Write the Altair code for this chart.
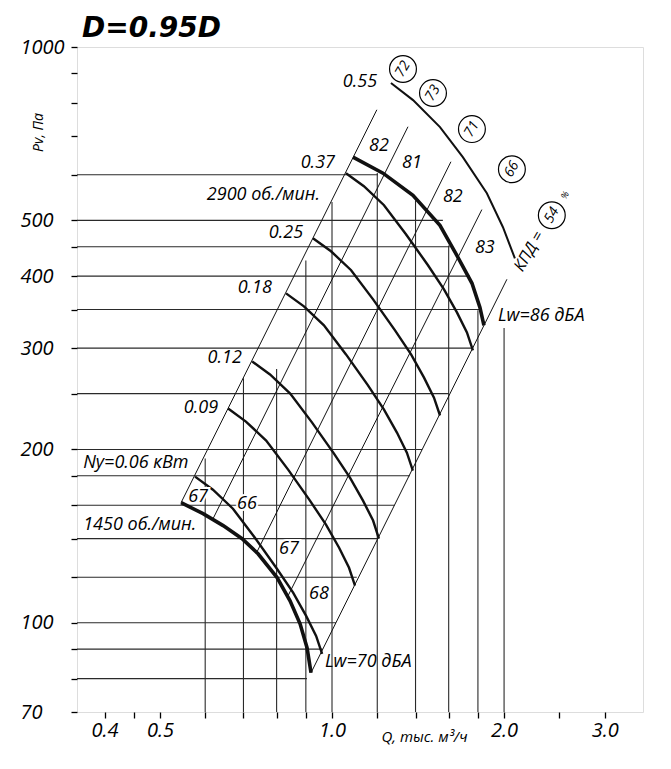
import altair as alt
import pandas as pd

# ---------------- axes ----------------
Q_MIN, Q_MAX = 0.358, 3.5
P_MIN, P_MAX = 70, 1000
X_TICKS = [0.4, 0.45, 0.5, 0.6, 0.7, 0.8, 0.9, 1.0, 1.2, 1.4, 1.6, 1.8, 2.0, 2.5, 3.0]
X_LABELED = [0.4, 0.5, 1.0, 2.0, 3.0]
Y_TICKS = [70, 80, 90, 100, 120, 140, 160, 180, 200, 250, 300, 350, 400, 450, 500,
           600, 700, 800, 900, 1000]
Y_LABELED = [70, 100, 200, 300, 400, 500, 1000]
TITLE = "D=0.95D"

# ---------------- speed curves (thick) ----------------
N1450_Q = [0.5445, 0.5949, 0.6450, 0.6962, 0.7424, 0.8015, 0.8445, 0.8793, 0.9043, 0.9190]
N1450_P = [161.7, 154.7, 147.5, 140.0, 131.8, 119.8, 109.2, 99.6, 90.5, 81.9]
N2900_Q = [1.0882, 1.2280, 1.3854, 1.5446, 1.6607, 1.7574, 1.8146, 1.8441]
N2900_P = [643.9, 603.8, 552.8, 490.1, 431.3, 388.7, 353.0, 328.6]

# ---------------- motor power curves ----------------
N006_Q = [0.576, 0.619, 0.671, 0.733, 0.801, 0.855, 0.901, 0.938, 0.961]
N006_P = [179.4, 170.3, 157.8, 140.5, 124.1, 112.8, 102.8, 94.9, 88.3]
N009_Q = [0.658, 0.707, 0.767, 0.838, 0.915, 0.976, 1.029, 1.071, 1.097]
N009_P = [235.6, 223.6, 207.3, 184.5, 163.0, 148.1, 135.0, 124.6, 116.0]
N012_Q = [0.725, 0.779, 0.845, 0.923, 1.008, 1.075, 1.133, 1.180, 1.208]
N012_P = [284.4, 270.0, 250.1, 222.7, 196.7, 178.7, 163.0, 150.5, 140.0]
N018_Q = [0.831, 0.893, 0.968, 1.058, 1.156, 1.233, 1.299, 1.352, 1.385]
N018_P = [373.4, 354.4, 328.6, 292.5, 258.4, 234.6, 214.0, 197.5, 183.8]
N025_Q = [0.926, 0.996, 1.080, 1.180, 1.289, 1.375, 1.448, 1.508, 1.545]
N025_P = [465.4, 441.8, 409.6, 364.5, 322.0, 292.5, 266.8, 246.1, 229.1]
N037_Q = [1.058, 1.137, 1.233, 1.347, 1.472, 1.570, 1.654, 1.722, 1.764]
N037_P = [603.8, 573.1, 531.1, 473.0, 417.8, 379.4, 346.0, 319.4, 297.2]
N055_Q = [1.268, 1.386, 1.545, 1.694, 1.866, 1.991, 2.089]
N055_P = [865.7, 808.7, 726.0, 643.6, 557.3, 486.4, 429.5]

# ---------------- rays (system lines) ----------------
RAY_Q_LOW = [0.5445, 0.6194, 0.7395, 0.8377, 0.9190]
RAY_P_LOW = [161.7, 151.7, 132.9, 111.4, 81.9]
RAY_Q_HIGH = [1.198, 1.358, 1.6145, 1.829, 2.023]
RAY_P_HIGH = [778, 727, 632, 522, 395]

# ---------------- grid segments ----------------
VGRID_Q = [0.6, 0.7, 0.8, 0.9, 1.0, 1.2, 1.4, 1.6, 1.8, 2.0]
VGRID_TOP = [193, 266, 276, 426, 538, 604, 542, 452, 349, 325]
HGRID_P = [80, 90, 100, 120, 140, 160, 180, 200, 250, 300, 350, 400, 450, 500, 600]
HGRID_END = [0.904, 0.962, 1.016, 1.105, 1.203, 1.287, 1.368, 1.437, 1.60, 1.757,
             1.815, 1.743, 1.607, 1.563, 1.203]

# ---------------- labels ----------------
POWER_TEXT = ["0.55", "0.37", "0.25", "0.18", "0.12", "0.09"]
POWER_Q = [1.199, 1.012, 0.890, 0.785, 0.6955, 0.632]
POWER_P = [869, 628, 475, 381, 288, 236]
LEFT_TEXT = ["Ny=0.06 кВт", "1450 об./мин."]
LEFT_Q = [0.367, 0.367]
LEFT_P = [189.8, 148.1]
SPEED_TEXT = ["2900 об./мин."]
SPEED_Q = [0.953]
SPEED_P = [552.8]
LW_TEXT = ["67", "66", "67", "68", "82", "81", "82", "83"]
LW_Q = [0.583, 0.710, 0.841, 0.949, 1.208, 1.380, 1.627, 1.851]
LW_P = [165.6, 161.1, 134.5, 112.3, 672.6, 628.4, 548.4, 447.2]
LWB_TEXT = ["Lw=70 дБА", "Lw=86 дБА"]
LWB_Q = [0.972, 1.951]
LWB_P = [85.5, 340.6]
EFF_TEXT = ["72", "73", "71", "66", "54"]
EFF_Q = [1.331, 1.502, 1.757, 2.064, 2.424]
EFF_P = [915.7, 831.8, 720.2, 613.4, 510.3]
KPD_TEXT = ["КПД ="]
KPD_Q = [2.211]
KPD_P = [441.8]
PCT_TEXT = ["%"]
PCT_Q = [2.555]
PCT_P = [552.8]

FONT = "Open Sans"
INK = "#111111"


def curves(named):
    rows = []
    for name, qs, ps in named:
        for i, (q, p) in enumerate(zip(qs, ps)):
            rows.append({"curve": name, "i": i, "Q": q, "P": p})
    return pd.DataFrame(rows)


def labels(texts, qs, ps):
    return pd.DataFrame({"t": texts, "Q": qs, "P": ps})


xs = alt.Scale(type="log", domain=[Q_MIN, Q_MAX], nice=False, zero=False)
ys = alt.Scale(type="log", domain=[P_MIN, P_MAX], nice=False, zero=False)

x_axis = alt.Axis(
    values=X_TICKS, format=".1f",
    labelExpr="indexof([" + ",".join(str(v) for v in X_LABELED) + "], datum.value) >= 0 ? datum.label : ''",
    grid=False, domain=False, ticks=True, tickSize=6, tickWidth=1.3, tickColor="black",
    labelFont=FONT, labelFontStyle="italic", labelFontSize=20, labelColor="black",
    labelPadding=2, labelOverlap=False, labelFlush=False, labelBound=False,
    title="Q, тыс. м³/ч", titleFont=FONT, titleFontStyle="italic", titleFontWeight="normal",
    titleFontSize=15, titleColor="black", titleX=347, titleY=24,
    titleAlign="center", titleBaseline="middle",
)
y_axis = alt.Axis(
    values=Y_TICKS, format="d",
    labelExpr="indexof([" + ",".join(str(v) for v in Y_LABELED) + "], datum.value) >= 0 ? datum.label : ''",
    grid=False, domain=False, ticks=True, tickSize=6, tickWidth=1.3, tickColor="black",
    labelFont=FONT, labelFontStyle="italic", labelFontSize=20, labelColor="black",
    labelAlign="left", labelBaseline="middle", labelPadding=51,
    labelOverlap=False, labelFlush=False, labelBound=False,
    title="Pv, Па", titleFont=FONT, titleFontStyle="italic", titleFontWeight="normal",
    titleFontSize=14, titleColor="black", titleAngle=270, titleX=-39, titleY=85,
    titleAlign="center", titleBaseline="middle",
)


def X(field="Q"):
    return alt.X(field, type="quantitative", scale=xs, axis=x_axis)


def Y(field="P"):
    return alt.Y(field, type="quantitative", scale=ys, axis=y_axis)


vgrid = alt.Chart(pd.DataFrame({"Q": VGRID_Q, "top": VGRID_TOP})).mark_rule(
    color="#2a2a2a", strokeWidth=1.1
).encode(x=X("Q"), y=Y("top"), y2=alt.datum(P_MIN))

hgrid = alt.Chart(pd.DataFrame({"P": HGRID_P, "end": HGRID_END})).mark_rule(
    color="#2a2a2a", strokeWidth=1.1
).encode(y=Y("P"), x=X("end"), x2=alt.datum(Q_MIN))

ray_rows = []
for k in range(len(RAY_Q_LOW)):
    ray_rows.append({"curve": f"r{k}", "i": 0, "Q": RAY_Q_LOW[k], "P": RAY_P_LOW[k]})
    ray_rows.append({"curve": f"r{k}", "i": 1, "Q": RAY_Q_HIGH[k], "P": RAY_P_HIGH[k]})
rays = alt.Chart(pd.DataFrame(ray_rows)).mark_line(color=INK, strokeWidth=1.0).encode(
    x=X(), y=Y(), detail="curve:N", order="i:Q")

thin = alt.Chart(curves([
    ("0.06", N006_Q, N006_P), ("0.09", N009_Q, N009_P), ("0.12", N012_Q, N012_P),
    ("0.18", N018_Q, N018_P), ("0.25", N025_Q, N025_P), ("0.37", N037_Q, N037_P),
])).mark_line(color=INK, strokeWidth=2.4).encode(x=X(), y=Y(), detail="curve:N", order="i:Q")

c055 = alt.Chart(curves([("0.55", N055_Q, N055_P)])).mark_line(
    color=INK, strokeWidth=2.0).encode(x=X(), y=Y(), detail="curve:N", order="i:Q")

thick = alt.Chart(curves([("1450", N1450_Q, N1450_P), ("2900", N2900_Q, N2900_P)])).mark_line(
    color=INK, strokeWidth=3.6).encode(x=X(), y=Y(), detail="curve:N", order="i:Q")


def text_layer(df, **kw):
    base = dict(font=FONT, fontStyle="italic", fontSize=18, color="black", baseline="middle")
    base.update(kw)
    return alt.Chart(df).mark_text(**base).encode(x=X(), y=Y(), text="t:N")


t_power = text_layer(labels(POWER_TEXT, POWER_Q, POWER_P), align="right")
t_speed = text_layer(labels(SPEED_TEXT, SPEED_Q, SPEED_P), align="right")
t_left = text_layer(labels(LEFT_TEXT, LEFT_Q, LEFT_P), align="left")
lw_df = labels(LW_TEXT, LW_Q, LW_P)
t_lw_halo = text_layer(lw_df, align="center", color="white", stroke="white", strokeWidth=4)
t_lw = text_layer(lw_df, align="center")
t_lwb = text_layer(labels(LWB_TEXT, LWB_Q, LWB_P), align="left")

circles = alt.Chart(labels(EFF_TEXT, EFF_Q, EFF_P)).mark_point(
    shape="circle", size=720, filled=False, stroke="black", strokeWidth=1.2, opacity=1
).encode(x=X(), y=Y())
t_eff = text_layer(labels(EFF_TEXT, EFF_Q, EFF_P), align="center", fontSize=14, angle=300)
t_kpd = text_layer(labels(KPD_TEXT, KPD_Q, KPD_P), align="center", fontSize=16, angle=300)
t_pct = text_layer(labels(PCT_TEXT, PCT_Q, PCT_P), align="center", fontSize=9, angle=300,
                   color="#000000")

# chart heading, placed just above the plot frame
heading = alt.Chart(pd.DataFrame({"t": [TITLE]})).mark_text(
    font="DejaVu Sans", fontStyle="italic", fontWeight="bold", fontSize=28, color="black",
    align="left", baseline="alphabetic"
).encode(x=alt.value(5), y=alt.value(-10), text="t:N")

chart = alt.layer(
    vgrid, hgrid, rays, thin, c055, thick,
    t_power, t_speed, t_left, t_lw_halo, t_lw, t_lwb, circles, t_eff, t_kpd, t_pct, heading,
).properties(
    width=566, height=665,
    autosize=alt.AutoSizeParams(type="none"),
    padding={"left": 69, "top": 39, "right": 20, "bottom": 45},
).configure_view(stroke="black", strokeWidth=3).configure(background="white")

chart.save("out.html", embed_options={"renderer": "svg", "actions": False})
